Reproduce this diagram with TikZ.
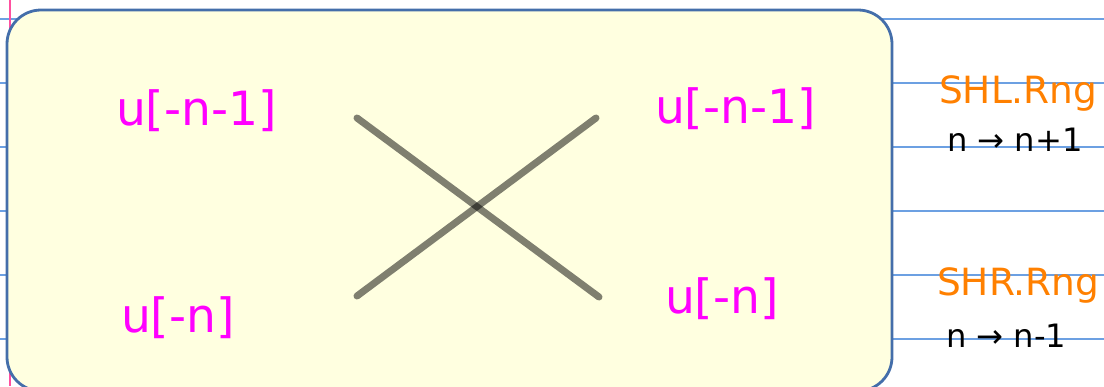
\documentclass[tikz,border=0pt]{standalone}
\usepackage{fontspec}
\setmainfont{DejaVu Sans}
\usepackage{xcolor}
\usetikzlibrary{positioning}

\definecolor{ruleblue}{RGB}{108,160,226}
\definecolor{marginpink}{RGB}{255,80,160}
\definecolor{boxfill}{RGB}{255,255,224}
\definecolor{boxedge}{RGB}{68,110,170}
\definecolor{oporange}{RGB}{255,128,0}
\definecolor{cellpink}{RGB}{255,0,255}

\begin{document}
\begin{tikzpicture}[
    x=1pt, y=-1pt,
    every node/.style={inner sep=0pt, outer sep=0pt},
    ruling/.style={draw=ruleblue, line width=1.3pt},
    marginline/.style={draw=marginpink, line width=1.3pt},
    panel/.style={
        draw=boxedge, fill=boxfill, line width=2.8pt,
        rounded corners=34pt
    },
    slot/.style={text=cellpink, font=\fontsize{47.2}{56}\selectfont, anchor=base west},
    opname/.style={text=oporange, font=\fontsize{37.5}{45}\selectfont, anchor=base west},
    mapping/.style={text=black, font=\fontsize{32.2}{38}\selectfont, anchor=base west},
    crossline/.style={draw=black, draw opacity=0.5, line width=7pt, line cap=round},
]

\path[use as bounding box, clip] (0,0) rectangle (1104,386);

% ── paper ──
\foreach \y in {19,83,...,339}
    \draw[ruling] (0,\y) -- (1104,\y);
\draw[marginline] (10,0) -- (10,386);

% ── register box ──
\draw[panel] (7,10) rectangle (892,391);

% ── cells ──
\node[slot] (upl) at (116,125) {u[-n-1]};
\node[slot] (lol) at (121,332) {u[-n]};
\node[slot] (upr) at (655,123) {u[-n-1]};
\node[slot] (lor) at (665,313) {u[-n]};

% ── exchange ──
\coordinate (xtl) at (357,118);
\coordinate (xbr) at (599,297);
\coordinate (xbl) at (357,296);
\coordinate (xtr) at (596,118);
\draw[crossline] (xtl) -- (xbr);
\draw[crossline] (xbl) -- (xtr);

% ── operations ──
\node[opname] (shl) at (939,103) {SHL.Rng};
\node[mapping] (shlmap) at (947,151) {n → n+1};
\node[opname] (shr) at (937,295) {SHR.Rng};
\node[mapping] (shrmap) at (946,347) {n → n-1};

\end{tikzpicture}
\end{document}
